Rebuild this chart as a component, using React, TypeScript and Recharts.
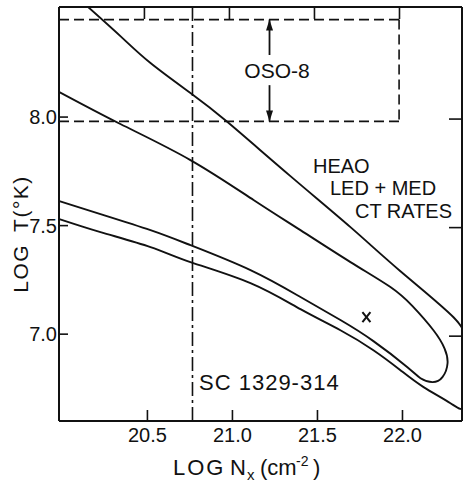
import { ComposedChart, Line, Scatter, XAxis, YAxis, ReferenceLine } from "recharts"

// axis ticks
const nTicks = [20.5, 21.0, 21.5, 22.0]
const tTicks = [7.0, 7.5, 8.0]

// inner contour (closed loop): upper branch out to the tip, lower branch back
const innerN = [19.982, 20.341, 20.753, 21.124, 21.4, 21.694, 21.929, 22.059, 22.182, 22.247, 22.265, 22.235, 22.176, 22.106, 22.029, 21.829, 21.635, 21.4, 21.106, 20.753, 20.518, 20.224, 19.982]
const innerT = [8.115, 7.968, 7.802, 7.618, 7.479, 7.332, 7.217, 7.129, 7.018, 6.935, 6.866, 6.802, 6.779, 6.797, 6.848, 6.968, 7.065, 7.171, 7.295, 7.41, 7.479, 7.553, 7.613]

// outer contour, closes just past the right edge
const outerN = [20.118, 20.341, 20.518, 20.753, 20.971, 21.341, 21.694, 21.988, 22.3, 22.371, 22.406, 22.371, 22.282, 22.124, 21.988, 21.829, 21.635, 21.4, 21.106, 20.753, 20.518, 20.224, 19.982]
const outerT = [8.53, 8.373, 8.249, 8.111, 7.977, 7.728, 7.493, 7.29, 7.078, 6.972, 6.825, 6.668, 6.682, 6.756, 6.834, 6.926, 7.018, 7.115, 7.235, 7.332, 7.401, 7.47, 7.53]

// OSO-8 box and arrows
const osoN = [19.98, 21.98]
const osoT = [7.98, 8.449]
const arrowN = 21.218
const arrowUpT = [8.286, 8.449]
const arrowDownT = [8.147, 7.98]

// source column density (vertical dash-dot)
const sourceN = 20.765

// best fit mark
const markN = [21.788]
const markT = [7.078]

const inner = innerN.map((n, i) => ({ n, t: innerT[i] }))
const outer = outerN.map((n, i) => ({ n, t: outerT[i] }))
const mark = markN.map((n, i) => ({ n, t: markT[i] }))

const ink = "#111"
const font = "'Liberation Sans', Arial, sans-serif"
const axisLine = { stroke: ink, strokeWidth: 2 }
const plotTop = 7
const plotRight = 462

// bottom ticks also draw the matching inward tick on the top frame
const BottomTick = ({ x, y, payload }: any) => (
  <g>
    <line x1={x} x2={x} y1={y} y2={y - 11} stroke={ink} strokeWidth={1.6} />
    <line x1={x - 3} x2={x - 3} y1={plotTop} y2={plotTop + 12} stroke={ink} strokeWidth={1.6} />
    <text x={x} y={y + 21} textAnchor="middle" fontSize={20} fontFamily={font} fill={ink}>
      {payload.value.toFixed(1)}
    </text>
  </g>
)

// left ticks also draw the matching inward tick on the right frame
const LeftTick = ({ x, y, payload }: any) => (
  <g>
    <line x1={x} x2={x + 9} y1={y} y2={y} stroke={ink} strokeWidth={1.6} />
    <line x1={plotRight} x2={plotRight - 13} y1={y + 2} y2={y + 2} stroke={ink} strokeWidth={1.6} />
    <text x={x - 2} y={y} dy="0.36em" textAnchor="end" fontSize={20} fontFamily={font} fill={ink}>
      {payload.value.toFixed(1)}
    </text>
  </g>
)

const Arrow = (p: any) => {
  const { x1, y1, x2, y2 } = p
  const dir = y2 < y1 ? -1 : 1
  return (
    <g>
      <line x1={x1} y1={y1} x2={x2} y2={y2} stroke={ink} strokeWidth={1.8} />
      <path d={`M${x2},${y2} L${x2 - 3.5},${y2 - dir * 11} L${x2 + 3.5},${y2 - dir * 11} Z`} fill={ink} />
    </g>
  )
}

const Cross = ({ cx, cy }: any) => (
  <g stroke={ink} strokeWidth={2}>
    <line x1={cx - 4} y1={cy - 5} x2={cx + 4} y2={cy + 5} />
    <line x1={cx + 4} y1={cy - 5} x2={cx - 4} y2={cy + 5} />
  </g>
)

export default function App() {
  return (
    <div style={{ position: "absolute", left: 0, top: 0, width: 465, height: 487, background: "#fff" }}>
      <ComposedChart width={465} height={487} margin={{ top: 2, right: 1, bottom: 36, left: 19 }}>
        <XAxis type="number" dataKey="n" domain={[19.98, 22.35]} allowDataOverflow ticks={nTicks} interval={0}
          height={30} tickSize={0} tickMargin={0} tickLine={false} axisLine={axisLine} tick={<BottomTick />} />
        <XAxis xAxisId="top" orientation="top" type="number" dataKey="n" domain={[19.98, 22.35]} allowDataOverflow ticks={nTicks}
          height={5} tickLine={false} axisLine={axisLine} tick={false} />
        <YAxis type="number" dataKey="t" domain={[6.6, 8.507]} allowDataOverflow ticks={tTicks} interval={0}
          width={40} tickSize={0} tickMargin={0} tickLine={false} axisLine={axisLine} tick={<LeftTick />} />
        <YAxis yAxisId="right" orientation="right" type="number" dataKey="t" domain={[6.6, 8.507]} allowDataOverflow ticks={tTicks}
          width={2} tickLine={false} axisLine={axisLine} tick={false} />

        <ReferenceLine x={sourceN} stroke={ink} strokeWidth={1.6} strokeDasharray="14 4 3 4" />
        <ReferenceLine segment={[{ x: osoN[0], y: osoT[1] }, { x: osoN[1], y: osoT[1] }]} ifOverflow="hidden" stroke={ink} strokeWidth={1.6} strokeDasharray="10 5" />
        <ReferenceLine segment={[{ x: osoN[0], y: osoT[0] }, { x: osoN[1], y: osoT[0] }]} ifOverflow="hidden" stroke={ink} strokeWidth={1.6} strokeDasharray="10 5" />
        <ReferenceLine segment={[{ x: osoN[1], y: osoT[1] }, { x: osoN[1], y: osoT[0] }]} ifOverflow="hidden" stroke={ink} strokeWidth={1.6} strokeDasharray="10 5" />
        <ReferenceLine segment={[{ x: arrowN, y: arrowUpT[0] }, { x: arrowN, y: arrowUpT[1] }]} ifOverflow="hidden" shape={Arrow} />
        <ReferenceLine segment={[{ x: arrowN, y: arrowDownT[0] }, { x: arrowN, y: arrowDownT[1] }]} ifOverflow="hidden" shape={Arrow} />

        <Line data={outer} dataKey="t" type="natural" stroke={ink} strokeWidth={1.9} dot={false} isAnimationActive={false} />
        <Line data={inner} dataKey="t" type="natural" stroke={ink} strokeWidth={1.9} dot={false} isAnimationActive={false} />
        <Scatter data={mark} dataKey="t" xAxisId="top" yAxisId="right" shape={<Cross />} isAnimationActive={false} />
      </ComposedChart>

      <svg width={465} height={487} style={{ position: "absolute", left: 0, top: 0, pointerEvents: "none" }}
        fontFamily={font} fill={ink}>
        <text x={277} y={78} textAnchor="middle" fontSize={21}>OSO-8</text>
        <text x={313} y={173} fontSize={20}>HEAO</text>
        <text x={330} y={195} fontSize={20}>LED + MED</text>
        <text x={355} y={218} fontSize={20}>CT RATES</text>
        <text x={199} y={390} fontSize={22} letterSpacing={1}>SC 1329-314</text>
        <text x={173} y={475} fontSize={22}>
          <tspan letterSpacing={2}>LOG</tspan>
          <tspan x={230}>N</tspan>
          <tspan x={247} dy={5} fontSize={15}>x</tspan>
          <tspan x={260} dy={-5}>(cm</tspan>
          <tspan x={296} dy={-9} fontSize={14}>-2</tspan>
          <tspan x={313} dy={9}>)</tspan>
        </text>
        <text transform="rotate(-90 28 234)" x={28} y={234} textAnchor="middle" fontSize={21} letterSpacing={1.5}>
          LOG<tspan dx={12}>T(°K)</tspan>
        </text>
      </svg>
    </div>
  )
}
